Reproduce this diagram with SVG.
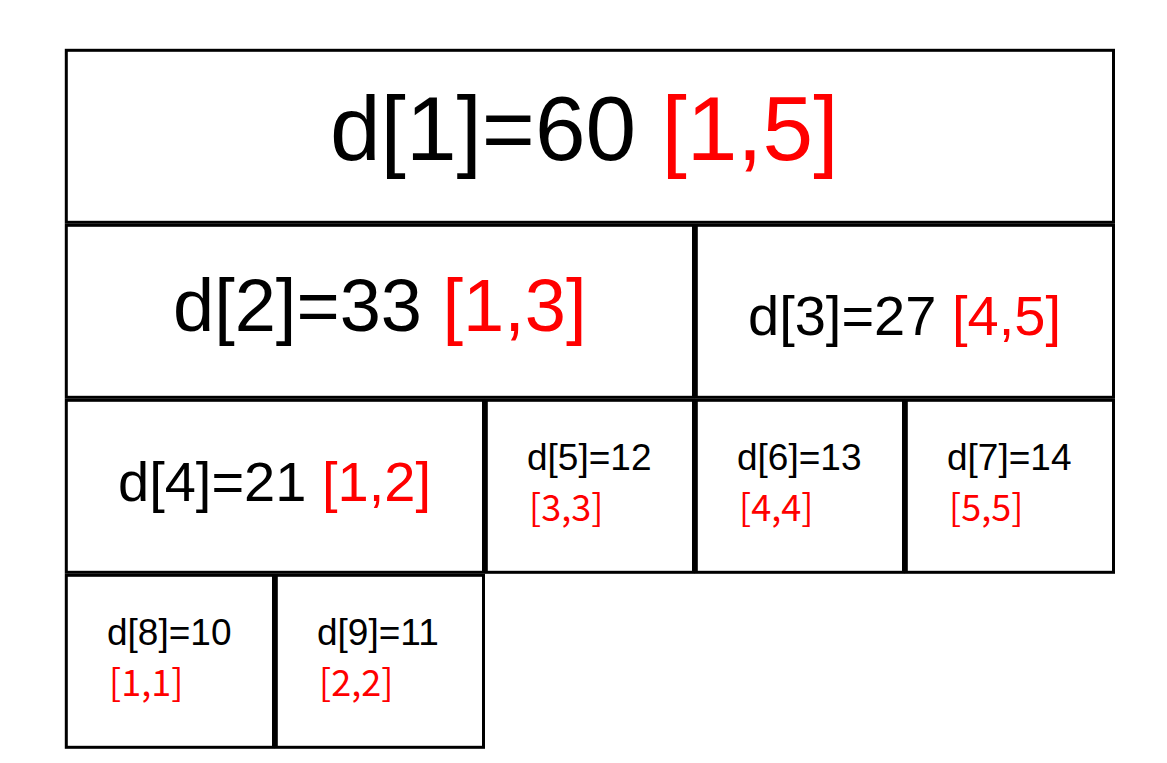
<svg xmlns="http://www.w3.org/2000/svg" width="1167" height="763" viewBox="0 0 1167 763">
<style>
.cell{fill:#fff;stroke:#000;stroke-width:3}
.t{font-family:"Liberation Sans",Arial,sans-serif;fill:#000}
.r{fill:#ff0000}
.rs{font-family:"Noto Sans CJK SC","Liberation Sans",sans-serif;fill:#ff0000;font-size:36px}
.s{font-size:37px}
</style>
<rect width="1167" height="763" fill="#fff"/>
<g id="connectors"/>
<g id="node1">
<rect class="cell" x="66.3" y="50.3" width="1047.2" height="172"/>
<text class="t" x="330" y="160" font-size="91">d[1]=60 <tspan class="r">[1,5]</tspan></text>
</g>
<g id="node2">
<rect class="cell" x="66.3" y="225.3" width="627.2" height="172"/>
<text class="t" x="173" y="331" font-size="74">d[2]=33 <tspan class="r">[1,3]</tspan></text>
</g>
<g id="node3">
<rect class="cell" x="696.3" y="225.3" width="417.2" height="172"/>
<text class="t" x="748" y="335" font-size="56">d[3]=27 <tspan class="r">[4,5]</tspan></text>
</g>
<g id="node4">
<rect class="cell" x="66.3" y="400.3" width="417.2" height="172"/>
<text class="t" x="118" y="501" font-size="56">d[4]=21 <tspan class="r">[1,2]</tspan></text>
</g>
<g id="node5">
<rect class="cell" x="486.3" y="400.3" width="207.2" height="172"/>
<text class="t s" x="527" y="470">d[5]=12</text>
<text class="rs" x="529" y="521">[3,3]</text>
</g>
<g id="node6">
<rect class="cell" x="696.3" y="400.3" width="207.2" height="172"/>
<text class="t s" x="737" y="470">d[6]=13</text>
<text class="rs" x="739" y="521">[4,4]</text>
</g>
<g id="node7">
<rect class="cell" x="906.3" y="400.3" width="207.2" height="172"/>
<text class="t s" x="947" y="470">d[7]=14</text>
<text class="rs" x="949" y="521">[5,5]</text>
</g>
<g id="node8">
<rect class="cell" x="66.3" y="575.3" width="207.2" height="172"/>
<text class="t s" x="107" y="645">d[8]=10</text>
<text class="rs" x="109" y="696">[1,1]</text>
</g>
<g id="node9">
<rect class="cell" x="276.3" y="575.3" width="207.2" height="172"/>
<text class="t s" x="317" y="645">d[9]=11</text>
<text class="rs" x="319" y="696">[2,2]</text>
</g>
</svg>
